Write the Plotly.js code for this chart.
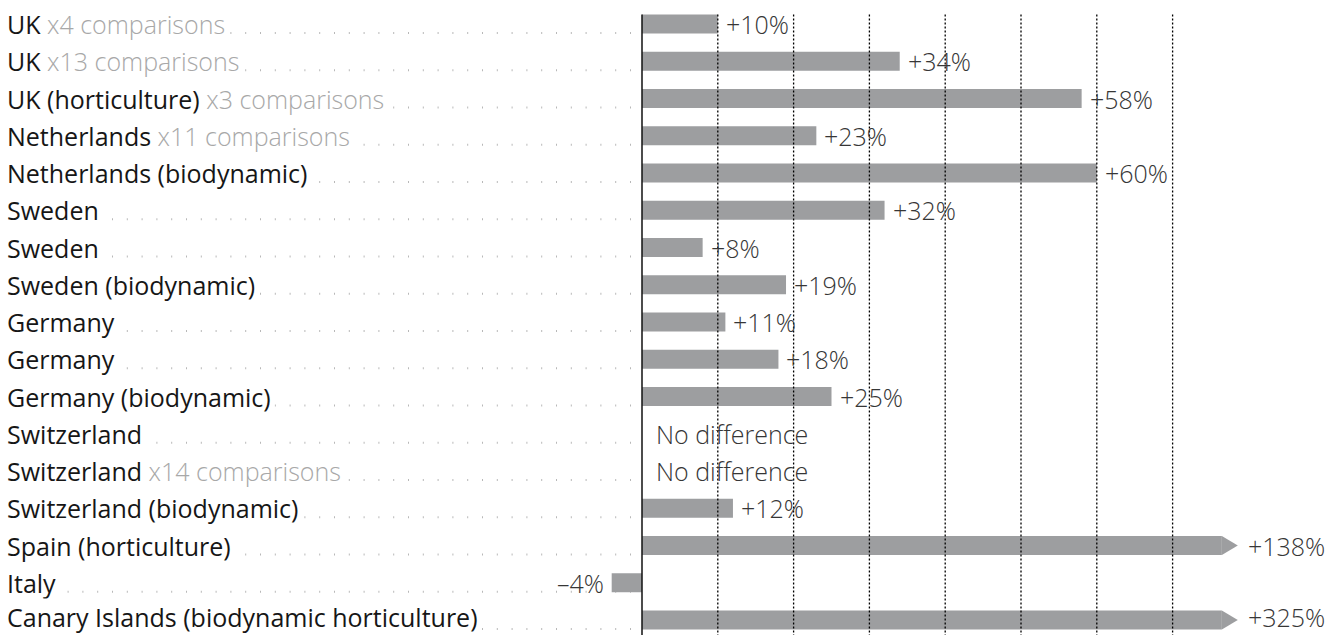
<!DOCTYPE html>
<html>
<head>
<meta charset="utf-8">
<script src="https://cdn.plot.ly/plotly-3.0.1.min.js"></script>
<style>
html,body{margin:0;padding:0;background:#fff;}
#chart{width:1333px;height:635px;}
</style>
</head>
<body>
<div id="chart"></div>
<script>
// ---- data ----
const labels = [
  "UK", "UK", "UK (horticulture)", "Netherlands", "Netherlands (biodynamic)",
  "Sweden", "Sweden", "Sweden (biodynamic)", "Germany", "Germany",
  "Germany (biodynamic)", "Switzerland", "Switzerland", "Switzerland (biodynamic)",
  "Spain (horticulture)", "Italy", "Canary Islands (biodynamic horticulture)"
];
const notes = [
  "x4 comparisons", "x13 comparisons", "x3 comparisons", "x11 comparisons", "",
  "", "", "", "", "",
  "", "", "x14 comparisons", "",
  "", "", ""
];
const values = [10, 34, 58, 23, 60, 32, 8, 19, 11, 18, 25, 0, 0, 12, 138, -4, 325];
const valueLabels = [
  "+10%", "+34%", "+58%", "+23%", "+60%", "+32%", "+8%", "+19%", "+11%", "+18%",
  "+25%", "No difference", "No difference", "+12%", "+138%", "–4%", "+325%"
];
const gridTicks = [10, 20, 30, 40, 50, 60, 70];

// ---- display settings ----
const W = 1333, H = 635;
const axisPx = 642, pxPerUnit = 7.58;
const xMin = -axisPx / pxPerUnit, xMax = (W - axisPx) / pxPerUnit;
const rowPx = 37.25;
const yTop = -24 / rowPx, yBottom = 16 + 15 / rowPx;
const barW = 0.51;
const cap = 76.5;          // bars longer than this are truncated with an arrow head
const arrowLen = 2.1;
const FONT = "Open Sans, Noto Sans, sans-serif";
const barColor = "#9d9ea0";

const idx = labels.map((_, i) => i);
const shown = values.map(v => Math.min(v, cap));
const lastRow = labels.length - 1;

const shapes = [];
// dotted leaders
idx.forEach(i => {
  shapes.push({
    type: "line", xref: "paper", yref: "y",
    x0: 631 / W, x1: 7 / W, y0: i + 9 / rowPx, y1: i + 9 / rowPx,
    line: {color: "#b8b8b8", width: 2, dash: "1px,13.8px"}, layer: "below"
  });
});
// arrow heads for truncated bars
idx.forEach(i => {
  if (values[i] > cap) {
    shapes.push({
      type: "path", xref: "x", yref: "y",
      path: `M ${cap} ${i - barW / 2} L ${cap + arrowLen} ${i} L ${cap} ${i + barW / 2} Z`,
      fillcolor: barColor, line: {width: 0}, layer: "below"
    });
  }
});
// grid lines
gridTicks.forEach(t => {
  shapes.push({
    type: "line", xref: "x", yref: "y", x0: t, x1: t, y0: -barW / 2, y1: yBottom,
    line: {color: "#000", width: 1.3, dash: "2px,2px"}, layer: "above"
  });
});
// zero axis
shapes.push({
  type: "line", xref: "x", yref: "y", x0: 0, x1: 0, y0: -barW / 2, y1: yBottom,
  line: {color: "#111", width: 1.5}, layer: "above"
});

const annotations = [];
idx.forEach(i => {
  const txt = notes[i]
    ? `${labels[i]} <span style="color:#a8a8a8;font-weight:300">${notes[i]}</span>`
    : labels[i];
  const isLast = i === lastRow;
  const ys = isLast ? 3 : 0;
  annotations.push({
    xref: "paper", yref: "y", x: 3 / W, y: i, xanchor: "left", yanchor: "middle",
    yshift: ys, xshift: isLast ? 2 : 0,
    text: txt, showarrow: false, bgcolor: "#ffffff", borderpad: isLast ? 1 : 3,
    font: {family: FONT, size: 25, color: "#161616"}
  });
  const v = values[i];
  const end = v > cap ? cap + arrowLen : v;
  annotations.push({
    xref: "x", yref: "y", x: end, y: i,
    xanchor: v < 0 ? "right" : "left", yanchor: "middle",
    xshift: (v < 0 ? -6 : (v === 0 ? 12 : (v > cap ? 8 : 6))) + (v < 0 ? -1 : 1),
    yshift: ys, borderpad: 0,
    text: valueLabels[i], showarrow: false,
    font: {family: FONT, size: 25, color: "#363636", weight: 300}
  });
});

const trace = {
  type: "bar", orientation: "h", x: shown, y: idx, width: barW,
  marker: {color: barColor, line: {width: 0}},
  hoverinfo: "skip"
};

const layout = {
  width: W, height: H,
  margin: {l: 0, r: 0, t: 0, b: 0},
  paper_bgcolor: "#fff", plot_bgcolor: "#fff",
  showlegend: false, hovermode: false,
  xaxis: {range: [xMin, xMax], visible: false, fixedrange: true},
  yaxis: {range: [yBottom, yTop], visible: false, fixedrange: true},
  shapes: shapes,
  annotations: annotations
};

Plotly.newPlot("chart", [trace], layout, {displayModeBar: false, staticPlot: true});
</script>
</body>
</html>
